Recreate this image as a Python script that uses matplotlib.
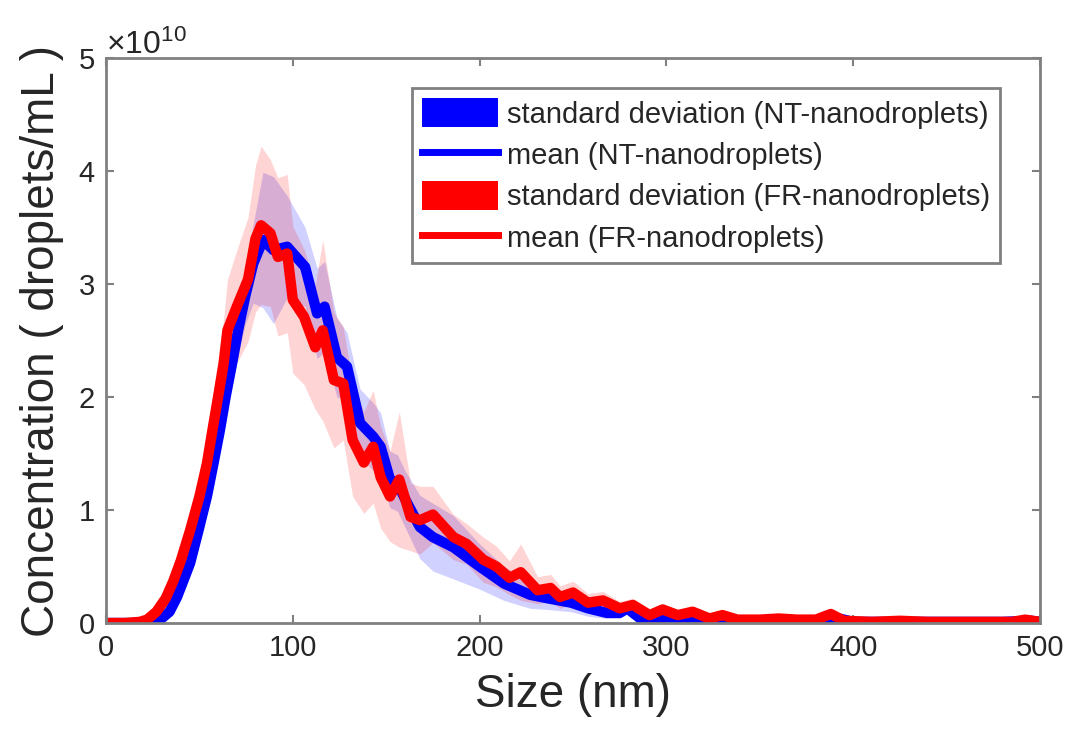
import numpy as np
import matplotlib
matplotlib.use("Agg")
import matplotlib.pyplot as plt
from matplotlib.patches import Patch
from matplotlib.lines import Line2D
from matplotlib.ticker import ScalarFormatter

# --- data (concentration in units of 1e10 droplets/mL) ---
fr_size = [2, 10, 18, 22, 27, 32, 36, 40, 45, 50,
           54, 57, 60, 63, 65, 70, 76, 80, 83, 88,
           92, 97, 100, 106, 112, 116, 122, 127, 132, 138,
           143, 147, 152, 157, 163, 168, 175, 186, 193, 202,
           209, 216, 222, 231, 238, 243, 250, 258, 266, 275,
           282, 291, 298, 306, 314, 323, 330, 338, 350, 360,
           370, 380, 388, 395, 410, 425, 440, 455, 470, 485,
           492, 500]
fr_mean = [0, 0, 0.01, 0.03, 0.1, 0.22, 0.37, 0.55, 0.82, 1.12,
           1.41, 1.71, 2.0, 2.3, 2.59, 2.8, 3.04, 3.4, 3.52, 3.45,
           3.24, 3.27, 2.86, 2.71, 2.44, 2.59, 2.15, 2.12, 1.62, 1.42,
           1.56, 1.29, 1.12, 1.27, 0.94, 0.91, 0.96, 0.76, 0.7, 0.56,
           0.5, 0.4, 0.45, 0.29, 0.31, 0.23, 0.27, 0.18, 0.2, 0.13,
           0.16, 0.07, 0.12, 0.07, 0.1, 0.04, 0.07, 0.03, 0.03, 0.04,
           0.03, 0.03, 0.08, 0.02, 0.01, 0.02, 0.01, 0.01, 0.01, 0.01,
           0.03, 0.01]
fr_std = [0, 0, 0, 0.01, 0.02, 0.04, 0.07, 0.1, 0.15, 0.2,
          0.25, 0.3, 0.35, 0.4, 0.45, 0.5, 0.55, 0.65, 0.7, 0.65,
          0.7, 0.7, 0.65, 0.6, 0.55, 0.8, 0.6, 0.5, 0.5, 0.45,
          0.5, 0.45, 0.4, 0.6, 0.3, 0.3, 0.25, 0.2, 0.18, 0.2,
          0.18, 0.15, 0.25, 0.12, 0.12, 0.1, 0.1, 0.08, 0.08, 0.06,
          0.06, 0.04, 0.05, 0.04, 0.04, 0.02, 0.03, 0.02, 0.02, 0.02,
          0.02, 0.02, 0.03, 0.01, 0.01, 0.01, 0.01, 0.01, 0.01, 0.01,
          0.02, 0.01]

nt_size = [2, 10, 20, 25, 29, 34, 38, 42, 45, 49.5,
           54, 57.5, 61, 64, 67.5, 70.7, 74.5, 78.8, 84, 89.6,
           97, 106.6, 113, 117, 123.6, 129, 136, 143, 147, 152,
           156, 160, 168, 175, 186, 200, 213, 227, 236, 249,
           258, 268, 275, 279, 286, 297, 317, 330, 345, 360,
           375, 390, 400, 420, 440, 460, 480, 495, 500]
nt_mean = [0, 0, 0, 0.01, 0.03, 0.1, 0.23, 0.4, 0.53, 0.82,
           1.12, 1.41, 1.71, 2.0, 2.3, 2.59, 2.89, 3.18, 3.39, 3.3,
           3.33, 3.15, 2.74, 2.8, 2.35, 2.27, 1.77, 1.65, 1.56, 1.27,
           1.24, 1.1, 0.85, 0.76, 0.67, 0.5, 0.35, 0.25, 0.22, 0.18,
           0.13, 0.09, 0.09, 0.13, 0.04, 0.03, 0.01, 0.02, 0.01, 0.03,
           0.01, 0.05, 0.01, 0.01, 0.01, 0.01, 0.01, 0.02, 0.01]
nt_std = [0, 0, 0, 0.005, 0.01, 0.03, 0.05, 0.07, 0.08, 0.1,
          0.12, 0.14, 0.16, 0.18, 0.2, 0.22, 0.25, 0.35, 0.6, 0.65,
          0.45, 0.35, 0.4, 0.4, 0.35, 0.3, 0.3, 0.3, 0.3, 0.25,
          0.25, 0.25, 0.28, 0.3, 0.28, 0.2, 0.15, 0.12, 0.1, 0.08,
          0.07, 0.05, 0.05, 0.05, 0.03, 0.02, 0.01, 0.01, 0.01, 0.01,
          0.01, 0.01, 0.01, 0.01, 0.01, 0.01, 0.01, 0.01, 0.01]

scale = 1e10
labels = ['standard deviation (NT-nanodroplets)', 'mean (NT-nanodroplets)',
          'standard deviation (FR-nanodroplets)', 'mean (FR-nanodroplets)']

plt.rcParams['font.family'] = ['Liberation Sans', 'DejaVu Sans']
plt.rcParams['mathtext.fontset'] = 'custom'
plt.rcParams['mathtext.rm'] = 'Liberation Sans'
plt.rcParams['mathtext.it'] = 'Liberation Sans'

text_col = '#262626'
axis_col = '#808080'

fig = plt.figure(figsize=(10.72, 7.44), dpi=100)
ax = fig.add_axes([0.0989, 0.1626, 0.8713, 0.7594])

x_nt = np.array(nt_size)
m_nt = np.array(nt_mean) * scale
s_nt = np.array(nt_std) * scale
x_fr = np.array(fr_size)
m_fr = np.array(fr_mean) * scale
s_fr = np.array(fr_std) * scale

# drawn in legend order: NT band, NT mean, FR band, FR mean
ax.fill_between(x_nt, np.clip(m_nt - s_nt, 0, None), m_nt + s_nt,
                color='blue', alpha=0.18, linewidth=0)
ax.plot(x_nt, m_nt, color='blue', lw=7.5, solid_joinstyle='round')
ax.fill_between(x_fr, np.clip(m_fr - s_fr, 0, None), m_fr + s_fr,
                color='red', alpha=0.17, linewidth=0)
ax.plot(x_fr, m_fr, color='red', lw=7.5, solid_joinstyle='round')

ax.set_xlim(0, 500)
ax.set_ylim(0, 5e10)
ax.set_xticks([0, 100, 200, 300, 400, 500])
ax.set_yticks(np.arange(0, 6) * 1e10)
fmt = ScalarFormatter(useMathText=True)
ax.yaxis.set_major_formatter(fmt)
ax.yaxis.get_offset_text().set_fontsize(23)
ax.yaxis.get_offset_text().set_color(text_col)

ax.tick_params(direction='in', length=6, width=1.5, colors=axis_col,
               labelcolor=text_col, labelsize=21, top=True, right=True, pad=8)
for sp in ax.spines.values():
    sp.set_color(axis_col)
    sp.set_linewidth(2)

ax.set_xlabel('Size (nm)', fontsize=33, color=text_col, labelpad=8)
ax.set_ylabel('Concentration ( droplets/mL )', fontsize=33, color=text_col, labelpad=10)

handles = [Patch(facecolor='blue', edgecolor='none'),
           Line2D([], [], color='blue', lw=5),
           Patch(facecolor='red', edgecolor='none'),
           Line2D([], [], color='red', lw=5)]
leg = ax.legend(handles, labels, loc='upper right', bbox_to_anchor=(0.957, 0.947),
                borderaxespad=0, fontsize=21, fancybox=False, framealpha=1,
                edgecolor=axis_col, handlelength=2.6, handleheight=1.15,
                handletextpad=0.3, labelspacing=0.38, borderpad=0.35)
leg.get_frame().set_linewidth(2)
for t in leg.get_texts():
    t.set_color(text_col)

fig.savefig('out.png', dpi=100)
